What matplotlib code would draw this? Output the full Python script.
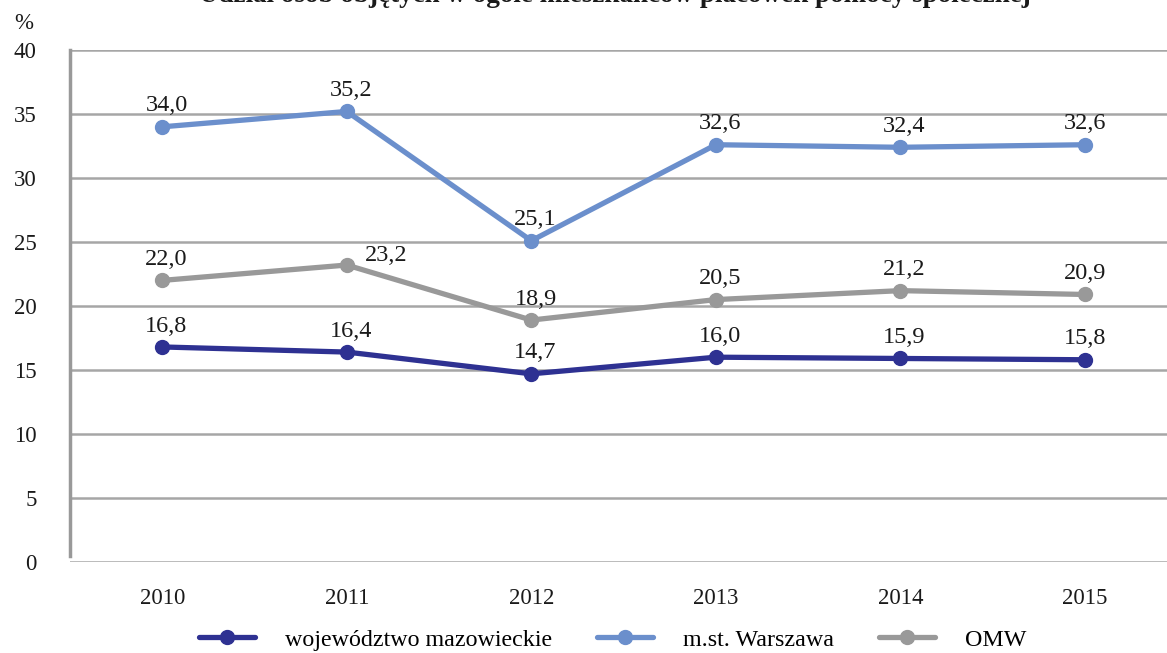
import matplotlib
matplotlib.use("Agg")
import matplotlib.pyplot as plt

# data
years = ["2010", "2011", "2012", "2013", "2014", "2015"]
mazowieckie = [16.8, 16.4, 14.7, 16.0, 15.9, 15.8]
warszawa = [34.0, 35.2, 25.1, 32.6, 32.4, 32.6]
omw = [22.0, 23.2, 18.9, 20.5, 21.2, 20.9]
series_names = ["województwo mazowieckie", "m.st. Warszawa", "OMW"]
title = "Udział osób objętych w ogóle mieszkańców placówek pomocy społecznej"

plt.rcParams['font.family'] = ['Liberation Serif', 'DejaVu Serif']

fig = plt.figure(figsize=(11.67, 6.53), dpi=100)
ax = fig.add_axes([0.06, 0.1394, 0.94, 0.7840])

x = list(range(len(years)))
colors = ["#2e3192", "#6b8fcc", "#999999"]
all_series = [mazowieckie, warszawa, omw]
txt = '#1a1a1a'

for vals, name, c in zip(all_series, series_names, colors):
    ax.plot(x, vals, color=c, lw=3.8, marker='o', ms=10, label=name,
            solid_capstyle='round')
    for i, v in enumerate(vals):
        dx, dy = 3, 15
        if name == "OMW" and i == 1:
            dx, dy = 28, 7
        if i == 5:
            dx = 0
        ax.annotate(("%.1f" % v).replace(".", ","), (i, v),
                    xytext=(dx, dy), textcoords='offset points',
                    ha='center', va='center', fontsize=17.5, color=txt)

ax.set_ylim(0, 40)
ax.set_xlim(-0.5, 5.445)
ax.set_yticks(range(0, 41, 5))
ax.set_xticks(x)
ax.set_xticklabels(years)
ax.tick_params(axis='both', length=0, labelsize=16.5, colors=txt)
ax.tick_params(axis='y', pad=24)
ax.tick_params(axis='x', pad=19)
ax.yaxis.grid(True, color='#a6a6a6', lw=1.8)
ax.set_axisbelow(True)
for s in ['top', 'right', 'bottom']:
    ax.spines[s].set_visible(False)
ax.spines['left'].set_color('#999999')
ax.spines['left'].set_linewidth(2.5)
ax.spines['left'].set_bounds(0.5, 40)

fig.text(0.012, 0.955, "%", fontsize=16.5, color=txt)
fig.text(0.527, 1 - 1.5 / 653, title, ha='center', va='baseline', fontsize=19.5,
         fontweight='bold', color=txt)

fig.legend(loc='center', ncol=3, bbox_to_anchor=(0.525, 0.02),
           frameon=False, fontsize=17.3, handlelength=2.3, columnspacing=1.9,
           handletextpad=1.25)

fig.savefig("out.png", dpi=100)
